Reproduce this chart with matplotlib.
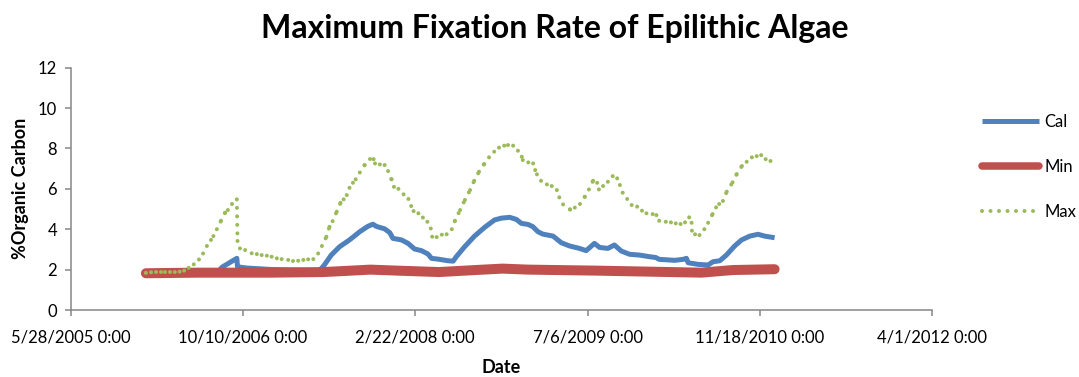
import matplotlib
matplotlib.use("Agg")
import matplotlib.pyplot as plt
import matplotlib.dates as mdates
from matplotlib.lines import Line2D
import pandas as pd

# ---- data -------------------------------------------------------------
cal_dates = [
    "2006-01-01", "2006-07-28", "2006-08-10", "2006-09-22", "2006-09-24", "2006-10-20",
    "2006-12-28", "2007-05-20", "2007-06-03", "2007-06-23", "2007-07-17", "2007-08-15",
    "2007-09-14", "2007-10-07", "2007-10-22", "2007-11-01", "2007-11-25", "2007-12-10",
    "2007-12-19", "2008-01-13", "2008-02-01", "2008-02-20", "2008-03-11", "2008-03-30",
    "2008-04-09", "2008-04-28", "2008-05-27", "2008-06-11", "2008-06-20", "2008-07-14",
    "2008-08-12", "2008-09-10", "2008-10-09", "2008-10-29", "2008-11-22", "2008-12-11",
    "2008-12-26", "2009-01-14", "2009-01-28", "2009-02-12", "2009-02-26", "2009-03-28",
    "2009-04-21", "2009-05-15", "2009-06-13", "2009-07-02", "2009-07-26", "2009-08-10",
    "2009-09-03", "2009-09-22", "2009-10-12", "2009-11-05", "2009-12-04", "2010-01-02",
    "2010-01-20", "2010-01-30", "2010-03-16", "2010-04-10", "2010-04-19", "2010-04-24",
    "2010-05-23", "2010-06-21", "2010-07-05", "2010-07-25", "2010-08-13", "2010-09-06",
    "2010-09-26", "2010-10-20", "2010-11-13", "2010-12-02", "2010-12-31",
]
cal_values = [
    1.84, 1.86, 2.12, 2.56, 2.14, 2.08,
    2.01, 1.95, 2.23, 2.72, 3.13, 3.47,
    3.88, 4.14, 4.25, 4.14, 4.02, 3.83,
    3.55, 3.47, 3.30, 3.02, 2.94, 2.77,
    2.56, 2.52, 2.44, 2.42, 2.64, 3.13,
    3.66, 4.09, 4.46, 4.55, 4.59, 4.49,
    4.29, 4.24, 4.13, 3.88, 3.76, 3.66,
    3.33, 3.17, 3.05, 2.94, 3.30, 3.10,
    3.05, 3.22, 2.92, 2.76, 2.72, 2.64,
    2.60, 2.51, 2.46, 2.51, 2.56, 2.34,
    2.26, 2.23, 2.39, 2.44, 2.72, 3.17,
    3.47, 3.66, 3.75, 3.66, 3.58,
]

min_dates = [
    "2006-01-01", "2006-06-01", "2007-01-01", "2007-06-01", "2007-10-15", "2008-01-01",
    "2008-05-01", "2008-08-15", "2008-11-01", "2009-01-15", "2009-08-01", "2010-01-01",
    "2010-06-01", "2010-09-01", "2010-12-31",
]
min_values = [
    1.82, 1.85, 1.85, 1.88, 2.00, 1.95,
    1.88, 1.98, 2.05, 2.00, 1.95, 1.90,
    1.85, 1.98, 2.02,
]

max_dates = [
    "2006-01-01", "2006-01-16", "2006-01-30", "2006-02-13", "2006-02-26", "2006-03-12",
    "2006-03-26", "2006-04-09", "2006-04-22", "2006-05-05", "2006-05-20", "2006-06-04",
    "2006-06-16", "2006-06-27", "2006-07-09", "2006-07-16", "2006-07-26", "2006-08-07",
    "2006-08-19", "2006-08-27", "2006-09-08", "2006-09-22", "2006-09-24", "2006-10-01",
    "2006-10-16", "2006-11-04", "2006-11-19", "2006-12-03", "2006-12-18", "2007-01-01",
    "2007-01-16", "2007-01-30", "2007-02-18", "2007-03-05", "2007-03-19", "2007-04-03",
    "2007-04-17", "2007-05-02", "2007-05-16", "2007-05-27", "2007-06-09", "2007-06-18",
    "2007-06-27", "2007-07-09", "2007-07-20", "2007-07-29", "2007-08-07", "2007-08-15",
    "2007-08-25", "2007-09-02", "2007-09-14", "2007-09-28", "2007-10-13", "2007-10-24",
    "2007-10-28", "2007-11-11", "2007-11-25", "2007-12-05", "2007-12-15", "2007-12-22",
    "2008-01-04", "2008-01-19", "2008-02-02", "2008-02-10", "2008-02-17", "2008-03-02",
    "2008-03-15", "2008-03-28", "2008-04-07", "2008-04-11", "2008-04-24", "2008-05-09",
    "2008-05-23", "2008-06-07", "2008-06-16", "2008-07-01", "2008-07-15", "2008-07-30",
    "2008-08-11", "2008-08-25", "2008-09-09", "2008-09-23", "2008-10-08", "2008-10-22",
    "2008-11-06", "2008-11-17", "2008-12-02", "2008-12-16", "2008-12-27", "2008-12-30",
    "2009-01-15", "2009-01-29", "2009-02-04", "2009-02-09", "2009-02-21", "2009-03-10",
    "2009-03-24", "2009-04-08", "2009-04-15", "2009-04-26", "2009-05-16", "2009-05-30",
    "2009-06-14", "2009-06-28", "2009-07-10", "2009-07-22", "2009-08-03", "2009-08-08",
    "2009-08-20", "2009-09-03", "2009-09-17", "2009-09-30", "2009-10-08", "2009-10-16",
    "2009-10-29", "2009-11-11", "2009-11-27", "2009-12-11", "2009-12-24", "2010-01-11",
    "2010-01-22", "2010-01-30", "2010-02-18", "2010-03-05", "2010-03-19", "2010-04-02",
    "2010-04-15", "2010-04-27", "2010-05-04", "2010-05-05", "2010-05-14", "2010-05-27",
    "2010-06-10", "2010-06-21", "2010-07-04", "2010-07-14", "2010-07-23", "2010-08-03",
    "2010-08-14", "2010-08-31", "2010-09-12", "2010-09-27", "2010-10-11", "2010-10-26",
    "2010-11-09", "2010-11-22", "2010-12-05", "2010-12-19", "2010-12-31",
]
max_values = [
    1.84, 1.87, 1.88, 1.88, 1.88, 1.88,
    1.88, 1.90, 1.95, 2.09, 2.26, 2.50,
    2.80, 3.17, 3.47, 3.66, 4.00, 4.42,
    4.82, 4.95, 5.25, 5.48, 3.42, 3.05,
    2.97, 2.81, 2.77, 2.72, 2.69, 2.64,
    2.56, 2.52, 2.48, 2.44, 2.44, 2.48,
    2.51, 2.52, 2.80, 3.17, 3.63, 4.12,
    4.40, 4.87, 5.31, 5.48, 5.69, 6.05,
    6.30, 6.47, 6.81, 7.18, 7.47, 7.47,
    7.26, 7.21, 7.18, 6.88, 6.47, 6.10,
    6.00, 5.73, 5.50, 5.15, 4.90, 4.79,
    4.58, 4.37, 4.04, 3.63, 3.61, 3.73,
    3.75, 4.00, 4.42, 4.95, 5.45, 5.94,
    6.40, 6.85, 7.23, 7.56, 7.84, 8.04,
    8.14, 8.17, 8.14, 7.89, 7.59, 7.43,
    7.31, 7.26, 6.93, 6.72, 6.40, 6.22,
    6.14, 5.94, 5.58, 5.23, 4.98, 5.07,
    5.25, 5.61, 5.97, 6.40, 6.30, 5.97,
    6.14, 6.35, 6.63, 6.52, 6.19, 5.81,
    5.50, 5.20, 5.12, 4.92, 4.79, 4.75,
    4.70, 4.42, 4.37, 4.34, 4.29, 4.26,
    4.34, 4.59, 4.32, 3.93, 3.75, 3.71,
    4.00, 4.32, 4.75, 5.08, 5.25, 5.40,
    5.86, 6.32, 6.73, 7.13, 7.34, 7.56,
    7.62, 7.67, 7.47, 7.38, 7.30,
]

x_tick_dates = ["2005-05-28", "2006-10-10", "2008-02-22", "2009-07-06", "2010-11-18", "2012-04-01"]
x_tick_labels = ["5/28/2005 0:00", "10/10/2006 0:00", "2/22/2008 0:00",
                 "7/6/2009 0:00", "11/18/2010 0:00", "4/1/2012 0:00"]
y_ticks = [0, 2, 4, 6, 8, 10, 12]

series_names = ["Cal", "Min", "Max"]
colors = {"Cal": "#4F81BD", "Min": "#C0504D", "Max": "#9BBB59"}

# ---- figure -----------------------------------------------------------
plt.rcParams["font.family"] = ["Lato", "DejaVu Sans"]

fig = plt.figure(figsize=(10.79, 3.77), dpi=100)
ax = fig.add_axes([0.0656, 0.1777, 0.7982, 0.6427])

cal_x = mdates.date2num(pd.to_datetime(cal_dates))
min_x = mdates.date2num(pd.to_datetime(min_dates))
max_x = mdates.date2num(pd.to_datetime(max_dates))

ax.plot(cal_x, cal_values, color=colors["Cal"], lw=3.6,
        solid_capstyle="butt", solid_joinstyle="round", zorder=2)
ax.plot(min_x, min_values, color=colors["Min"], lw=7.2,
        solid_capstyle="round", solid_joinstyle="round", zorder=3)

# round-dot dash pattern restarts on every segment of the Max series
dot_lw = 2.9
dot_style = (0, (0.01, 2.1))
for i in range(len(max_x) - 1):
    ax.plot(max_x[i:i + 2], max_values[i:i + 2], color=colors["Max"], lw=dot_lw,
            linestyle=dot_style, dash_capstyle="round", zorder=4)

# ---- axes -------------------------------------------------------------
tick_x = mdates.date2num(pd.to_datetime(x_tick_dates))
ax.set_xlim(tick_x[0], tick_x[-1])
ax.set_ylim(0, 12)
ax.set_xticks(tick_x)
ax.set_xticklabels(x_tick_labels)
ax.set_yticks(y_ticks)

for side in ("top", "right"):
    ax.spines[side].set_visible(False)
for side in ("left", "bottom"):
    ax.spines[side].set_color("#868686")
    ax.spines[side].set_linewidth(1.1)

ax.tick_params(axis="both", direction="out", length=4, width=1.1,
               color="#868686", labelsize=12, labelcolor="#000000")
ax.tick_params(axis="x", pad=10)
ax.tick_params(axis="y", pad=6)

ax.set_xlabel("Date", fontsize=13, fontweight="bold", labelpad=10)
ax.set_ylabel("%Organic Carbon", fontsize=13, fontweight="bold", labelpad=6)

fig.text(0.514, 0.925, "Maximum Fixation Rate of Epilithic Algae",
         ha="center", va="center", fontsize=23, fontweight="bold")

# ---- legend -----------------------------------------------------------
handles = [
    Line2D([], [], color=colors["Cal"], lw=3.6, solid_capstyle="butt"),
    Line2D([], [], color=colors["Min"], lw=5.4, solid_capstyle="round"),
    Line2D([], [], color=colors["Max"], lw=dot_lw, linestyle=dot_style, dash_capstyle="round"),
]
fig.legend(handles, series_names, loc="upper left",
           bbox_to_anchor=(982 / 1079, 1 - 114 / 377), bbox_transform=fig.transFigure,
           frameon=False, fontsize=12, handlelength=3.4, handletextpad=0.35,
           labelspacing=1.75, borderpad=0, borderaxespad=0)

fig.savefig("out.png", dpi=100)
